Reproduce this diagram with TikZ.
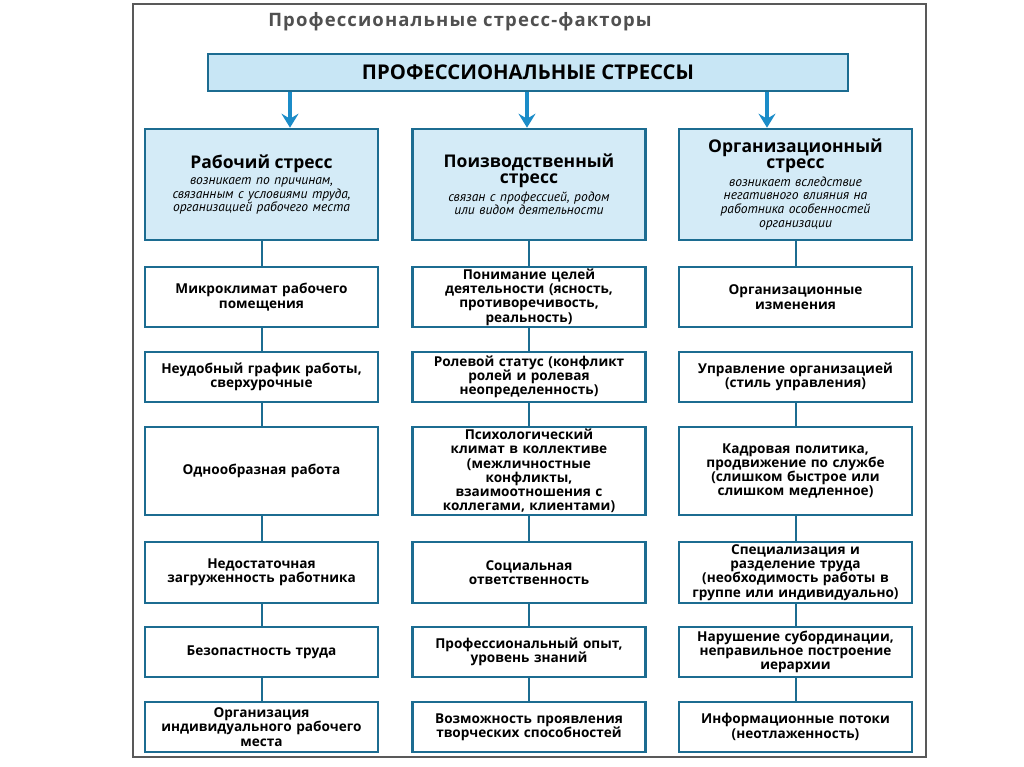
\documentclass[tikz,border=0pt]{standalone}
\usepackage{fontspec}
\setmainfont{Open Sans}
\newfontfamily\itfont{PT Sans}
\usetikzlibrary{positioning}
\usetikzlibrary{arrows.meta}
\definecolor{lineb}{RGB}{28,108,145}
\definecolor{arrowb}{RGB}{27,140,200}
\definecolor{topfill}{RGB}{200,230,245}
\definecolor{headfill}{RGB}{212,235,247}
\definecolor{titleg}{RGB}{80,80,80}
\tikzset{
    titlet/.style = {text=titleg,font=\bfseries\fontsize{18.5}{20}\selectfont\addfontfeature{LetterSpace=6}},
    topbox/.style = {rectangle, line width=2.6pt, draw=lineb, fill=topfill, minimum width=640pt, minimum height=37pt, font=\bfseries\fontsize{20.3}{22}\selectfont},
    headbox/.style = {rectangle, line width=2.6pt, draw=lineb, fill=headfill, minimum width=233pt, minimum height=111pt, text width=225pt, inner sep=0pt, align=center, font=\itfont\itshape\fontsize{13.5}{13.6}\selectfont},
    cell/.style = {rectangle, line width=2.4pt, draw=lineb, fill=white, minimum width=233pt, minimum height=#1, text width=228pt, inner sep=0pt, align=center, font=\bfseries\fontsize{13.6}{14.3}\selectfont},
    edgen/.style = {line width=2pt, draw=lineb},
    edgea/.style = {-{Stealth[length=14pt,width=17pt,inset=5pt]}, line width=4pt, draw=arrowb},
}
\newcommand{\HT}[1]{{\rmfamily\upshape\bfseries\fontsize{17.5}{15.5}\selectfont #1\par}\vspace{3pt}}

\begin{document}
\begin{tikzpicture}[x=1pt,y=-1pt]
\useasboundingbox (0,0) rectangle (1024,767);
\fill[white] (0,0) rectangle (1024,767);
\draw[black!65, line width=1.2pt] (133,4) rectangle (926,757);
%
\node[titlet] at (460, 22) (title) {Профессиональные стресс-факторы};
\node[topbox] at (528, 72.5) (top) {ПРОФЕССИОНАЛЬНЫЕ СТРЕССЫ};
%
\node[headbox] at (261.5, 184.5) (h1) {\HT{Рабочий стресс}возникает по причинам,\\ связанным с условиями труда,\\ организацией рабочего места};
\node[headbox] at (529.0, 184.5) (h2) {\HT{Поизводственный\\ стресс}связан с профессией, родом\\ или видом деятельности};
\node[headbox] at (795.5, 184.5) (h3) {\HT{Организационный\\ стресс}возникает вследствие\\ негативного влияния на\\ работника особенностей\\ организации};
%
\draw[edgea] ([xshift=28.5pt]h1.north |- top.south) -- ([xshift=28.5pt]h1.north);
\draw[edgea] ([xshift=-2pt]h2.north |- top.south) -- ([xshift=-2pt]h2.north);
\draw[edgea] ([xshift=-28.5pt]h3.north |- top.south) -- ([xshift=-28.5pt]h3.north);
%
\node[cell=60pt] at (261.5, 297.0) (l1) {Микроклимат рабочего\\ помещения};
\node[cell=50pt] at (261.5, 377.0) (l2) {Неудобный график работы,\\ сверхурочные};
\node[cell=88pt] at (261.5, 471.0) (l3) {Однообразная работа};
\node[cell=61pt] at (261.5, 572.5) (l4) {Недостаточная\\ загруженность работника};
\node[cell=50pt] at (261.5, 652.0) (l5) {Безопастность труда};
\node[cell=50pt] at (261.5, 727.0) (l6) {Организация\\ индивидуального рабочего\\ места};
%
\node[cell=60pt] at (529.0, 297.0) (m1) {Понимание целей\\ деятельности (ясность,\\ противоречивость,\\ реальность)};
\node[cell=50pt] at (529.0, 377.0) (m2) {Ролевой статус (конфликт\\ ролей и ролевая\\ неопределенность)};
\node[cell=88pt] at (529.0, 471.0) (m3) {Психологический\\ климат в коллективе\\ (межличностные\\ конфликты,\\ взаимоотношения с\\ коллегами, клиентами)};
\node[cell=61pt] at (529.0, 572.5) (m4) {Социальная\\ ответственность};
\node[cell=50pt] at (529.0, 652.0) (m5) {Профессиональный опыт,\\ уровень знаний};
\node[cell=50pt] at (529.0, 727.0) (m6) {Возможность проявления\\ творческих способностей};
%
\node[cell=60pt] at (795.5, 297.0) (r1) {Организационные\\ изменения};
\node[cell=50pt] at (795.5, 377.0) (r2) {Управление организацией\\ (стиль управления)};
\node[cell=88pt] at (795.5, 471.0) (r3) {Кадровая политика,\\ продвижение по службе\\ (слишком быстрое или\\ слишком медленное)};
\node[cell=61pt] at (795.5, 572.5) (r4) {Специализация и\\ разделение труда\\ (необходимость работы в\\ группе или индивидуально)};
\node[cell=50pt] at (795.5, 652.0) (r5) {Нарушение субординации,\\ неправильное построение\\ иерархии};
\node[cell=50pt] at (795.5, 727.0) (r6) {Информационные потоки\\ (неотлаженность)};
%
\draw[edgen] (h1) -- (l1);
\draw[edgen] (l1) -- (l2);
\draw[edgen] (l2) -- (l3);
\draw[edgen] (l3) -- (l4);
\draw[edgen] (l4) -- (l5);
\draw[edgen] (l5) -- (l6);
\draw[edgen] (h2) -- (m1);
\draw[edgen] (m1) -- (m2);
\draw[edgen] (m2) -- (m3);
\draw[edgen] (m3) -- (m4);
\draw[edgen] (m4) -- (m5);
\draw[edgen] (m5) -- (m6);
\draw[edgen] (h3) -- (r1);
\draw[edgen] (r2) -- (r3);
\draw[edgen] (r3) -- (r4);
\draw[edgen] (r4) -- (r5);
\draw[edgen] (r5) -- (r6);

\end{tikzpicture}
\end{document}
